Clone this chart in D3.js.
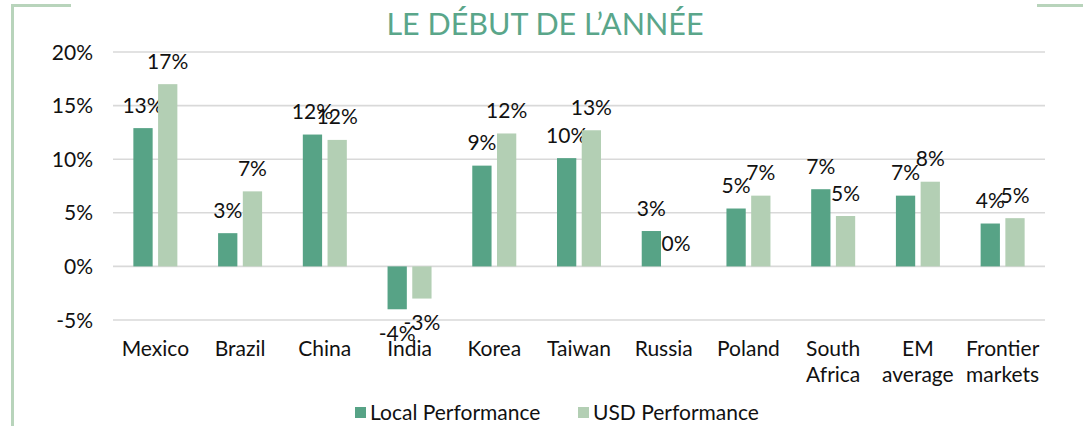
<!DOCTYPE html>
<html>
<head>
<meta charset="utf-8">
<script src="https://cdn.jsdelivr.net/npm/d3@7"></script>
<style>
  body { margin: 0; background: #fff; }
  svg { display: block; font-family: Lato, "Open Sans", sans-serif; }
</style>
</head>
<body>
<svg id="chart" width="1083" height="426"></svg>
<script>
// data
const countries = ["Mexico", "Brazil", "China", "India", "Korea", "Taiwan", "Russia", "Poland", "South\nAfrica", "EM\naverage", "Frontier\nmarkets"];
const localPerf = [12.9, 3.1, 12.3, -4.0, 9.4, 10.1, 3.3, 5.4, 7.2, 6.6, 4.0];
const usdPerf = [17.0, 7.0, 11.8, -3.0, 12.4, 12.7, 0.0, 6.6, 4.7, 7.9, 4.5];
const yTicks = [-5, 0, 5, 10, 15, 20];
const seriesNames = ["Local Performance", "USD Performance"];
const colors = ["#57a386", "#b3cfb4"];

let svg = d3.select("#chart");
const fs = "21px";

// frame lines
const frame = "#b8d4bb";
svg.append("line").attr("x1", 12.5).attr("x2", 12.5).attr("y1", 4).attr("y2", 426)
   .attr("stroke", frame).attr("stroke-width", 3);
svg.append("line").attr("x1", 11).attr("x2", 71).attr("y1", 5.5).attr("y2", 5.5)
   .attr("stroke", frame).attr("stroke-width", 3);
svg.append("line").attr("x1", 1037).attr("x2", 1083).attr("y1", 5.5).attr("y2", 5.5)
   .attr("stroke", frame).attr("stroke-width", 3);

// title (first line cut off at top, as in the source)
svg.append("text").attr("x", 585).attr("y", -1).attr("text-anchor", "middle")
   .attr("fill", "#5aa68a").style("font-size", "30px")
   .text("PERFORMANCE DES MARCHÉS ÉMERGENTS DEPUIS");
svg.append("text").attr("x", 545).attr("y", 35).attr("text-anchor", "middle")
   .attr("fill", "#5aa68a").style("font-size", "30.5px")
   .text("LE DÉBUT DE L’ANNÉE");

// scales
let x0 = d3.scaleBand().domain(countries).range([113, 1045]);
let bw = x0.bandwidth();
let x1 = d3.scaleBand().domain([0, 1]).range([bw / 2 - 22, bw / 2 + 22]).paddingInner(0.22);
let y = d3.scaleLinear().domain([-5, 20]).range([320, 52]);

// gridlines
svg.selectAll(".grid").data(yTicks).enter().append("line")
   .attr("class", "grid")
   .attr("x1", 113).attr("x2", 1045)
   .attr("y1", d => y(d)).attr("y2", d => y(d))
   .attr("stroke", "#d9d9d9").attr("stroke-width", 1.6);

// y tick labels
svg.selectAll(".ytick").data(yTicks).enter().append("text")
   .attr("class", "ytick")
   .attr("x", 93).attr("y", d => y(d) + 7.5)
   .attr("text-anchor", "end")
   .style("font-size", fs).attr("fill", "#111")
   .text(d => d + "%");

// bars + labels
const series = [localPerf, usdPerf];
series.forEach(function (vals, s) {
  let g = svg.append("g");
  g.selectAll("rect").data(vals).enter().append("rect")
   .attr("x", (d, i) => x0(countries[i]) + x1(s))
   .attr("y", d => y(Math.max(0, d)))
   .attr("width", x1.bandwidth())
   .attr("height", d => Math.abs(y(d) - y(0)))
   .attr("fill", colors[s]);

  g.selectAll("text").data(vals).enter().append("text")
   .attr("x", (d, i) => x0(countries[i]) + x1(s) + x1.bandwidth() / 2)
   .attr("y", d => d < 0 ? y(d) + 31.5 : y(d) - 15.5)
   .attr("text-anchor", "middle")
   .style("font-size", fs).attr("fill", "#111")
   .text(d => Math.round(d) + "%");
});

// category labels
let cat = svg.selectAll(".cat").data(countries).enter().append("text")
   .attr("class", "cat")
   .attr("x", d => x0(d) + bw / 2)
   .attr("y", 356)
   .attr("text-anchor", "middle")
   .style("font-size", fs).attr("fill", "#111");
cat.each(function (d) {
  let parts = d.split("\n");
  let t = d3.select(this);
  parts.forEach(function (p, k) {
    t.append("tspan").attr("x", x0(d) + bw / 2).attr("dy", k === 0 ? 0 : 26).text(p);
  });
});

// legend
let lg = svg.selectAll(".leg").data(seriesNames).enter().append("g")
   .attr("class", "leg")
   .attr("transform", (d, i) => "translate(" + (355 + i * 223) + ",407)");
lg.append("rect").attr("width", 11).attr("height", 11).attr("fill", (d, i) => colors[i]);
lg.append("text").attr("x", 15).attr("y", 13)
   .style("font-size", fs).attr("fill", "#111")
   .text(d => d);
</script>
</body>
</html>
